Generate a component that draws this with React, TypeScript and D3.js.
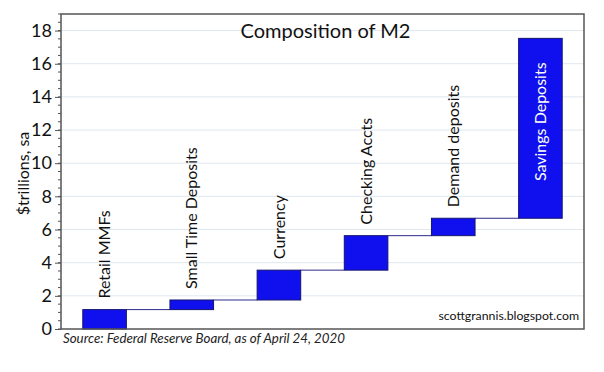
import React, { useEffect, useRef } from 'react';
import * as d3 from 'd3';

// M2 components, $ trillions (as of April 24, 2020)
const categories = ['Retail MMFs', 'Small Time Deposits', 'Currency', 'Checking Accts', 'Demand deposits', 'Savings Deposits'];
const amounts = [1.17, 0.58, 1.8, 2.08, 1.05, 10.85];
const yTicks = [0, 2, 4, 6, 8, 10, 12, 14, 16, 18];

const FONT = 'Lato, "Open Sans", sans-serif';

const App: React.FC = () => {
  const svgRef = useRef<SVGSVGElement>(null);

  useEffect(() => {
    if (!svgRef.current) return;
    const width = 604;
    const height = 372;
    const margin = { top: 14, right: 20, bottom: 43, left: 61 };
    const w = width - margin.left - margin.right;
    const h = height - margin.top - margin.bottom;

    const svg = d3.select(svgRef.current);
    svg.selectAll('*').remove();

    const g = svg.append('g').attr('transform', `translate(${margin.left},${margin.top})`);

    const x = d3.scaleBand<string>().domain(categories).range([0, w]).paddingInner(0.5).paddingOuter(0.25);
    const y = d3.scaleLinear().domain([0, 19]).range([h, 0]);

    const ends = Array.from(d3.cumsum(amounts));
    const starts = ends.map((e, i) => e - amounts[i]);

    // grid
    g.append('g')
      .selectAll('line')
      .data(yTicks.filter(t => t > 0))
      .join('line')
      .attr('x1', 0).attr('x2', w)
      .attr('y1', d => y(d)).attr('y2', d => y(d))
      .attr('stroke', '#dfe7ef').attr('stroke-width', 1);

    // minor ticks
    g.append('g')
      .selectAll('line')
      .data(d3.range(0, 19.01, 0.5))
      .join('line')
      .attr('x1', -3).attr('x2', 0)
      .attr('y1', d => y(d)).attr('y2', d => y(d))
      .attr('stroke', '#555').attr('stroke-width', 1);

    // y axis
    const yAxis = g.append('g')
      .call(d3.axisLeft(y).tickValues(yTicks).tickSize(6).tickPadding(3));
    yAxis.select('.domain').remove();
    yAxis.selectAll('line').attr('stroke', '#555');
    yAxis.selectAll('text')
      .attr('font-family', FONT).attr('font-size', 18).attr('fill', '#111');

    // connectors
    g.append('g')
      .selectAll('line')
      .data(ends.slice(0, -1))
      .join('line')
      .attr('x1', (d, i) => (x(categories[i]) ?? 0) + x.bandwidth())
      .attr('x2', (d, i) => x(categories[i + 1]) ?? 0)
      .attr('y1', d => y(d)).attr('y2', d => y(d))
      .attr('stroke', '#2b2b8c').attr('stroke-width', 1);

    // bars
    g.append('g')
      .selectAll('rect')
      .data(categories)
      .join('rect')
      .attr('x', d => x(d) ?? 0)
      .attr('width', x.bandwidth())
      .attr('y', (d, i) => y(ends[i]))
      .attr('height', (d, i) => y(starts[i]) - y(ends[i]))
      .attr('fill', '#1010ee')
      .attr('stroke', '#141470').attr('stroke-width', 1);

    // category labels
    categories.forEach((c, i) => {
      const cx = (x(c) ?? 0) + x.bandwidth() / 2;
      const inside = i === categories.length - 1;
      const ty = inside ? y(ends[i]) + 24 : y(ends[i]) - 11;
      g.append('text')
        .attr('transform', `translate(${cx},${ty}) rotate(-90)`)
        .attr('text-anchor', inside ? 'end' : 'start')
        .attr('dy', '0.35em')
        .attr('font-family', FONT).attr('font-size', 16)
        .attr('fill', inside ? '#fff' : '#111')
        .text(c);
    });

    // frame
    g.append('rect')
      .attr('x', 0).attr('y', 0).attr('width', w).attr('height', h)
      .attr('fill', 'none').attr('stroke', '#555').attr('stroke-width', 1.5);

    // title
    g.append('text')
      .attr('x', w / 2 + 3).attr('y', 24)
      .attr('text-anchor', 'middle')
      .attr('font-family', FONT).attr('font-size', 20).attr('fill', '#111')
      .text('Composition of M2');

    // watermark
    g.append('text')
      .attr('x', w - 5).attr('y', h - 9)
      .attr('text-anchor', 'end')
      .attr('font-family', FONT).attr('font-size', 12.3).attr('fill', '#111')
      .text('scottgrannis.blogspot.com');

    // y label
    svg.append('text')
      .attr('transform', `translate(29,${margin.top + h / 2 + 2}) rotate(-90)`)
      .attr('text-anchor', 'middle')
      .attr('font-family', FONT).attr('font-size', 16).attr('fill', '#111')
      .text('$trillions, sa');

    // source
    svg.append('text')
      .attr('x', margin.left + 2).attr('y', margin.top + h + 14)
      .attr('font-family', FONT).attr('font-size', 13.3).attr('font-style', 'italic').attr('fill', '#222')
      .text('Source: Federal Reserve Board, as of April 24, 2020');
  }, []);

  return (
    <div style={{ position: 'absolute', left: 0, top: 0 }}>
      <svg ref={svgRef} width={604} height={372} style={{ display: 'block', background: '#fff' }} />
    </div>
  );
};

export default App;
